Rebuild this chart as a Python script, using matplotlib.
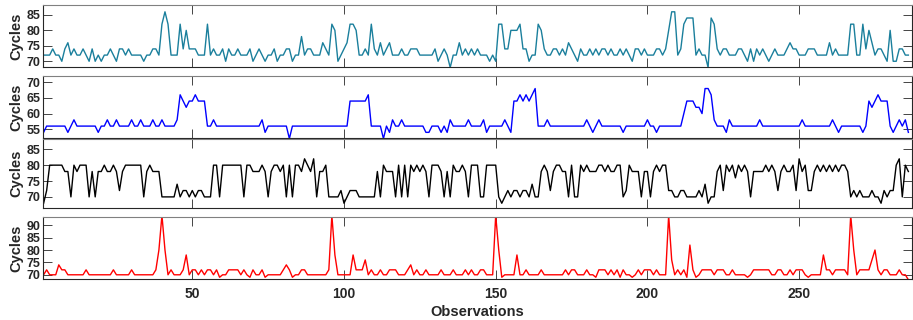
import numpy as np
import matplotlib
matplotlib.use("Agg")
import matplotlib.pyplot as plt

plt.rcParams['font.family'] = ['Liberation Sans', 'DejaVu Sans']

series1 = [
    72,72,72,74,72,72,70,74,76,72, 74,72,72,74,72,70,74,70,72,70,
    72,72,74,72,70,74,74,72,74,72, 72,72,72,70,72,72,74,74,72,82,
    86,82,72,72,72,82,74,80,74,74, 74,72,72,72,82,72,74,72,72,74,
    70,74,72,72,74,72,72,72,74,70, 72,74,72,70,72,72,74,70,72,72,
    74,74,70,72,72,78,72,74,74,72, 72,72,76,74,72,82,80,70,72,74,
    76,82,82,80,72,72,74,72,82,74, 72,76,72,74,76,72,72,72,74,72,
    72,74,74,74,72,72,72,72,72,74, 70,72,74,72,68,72,72,76,72,74,
    72,74,72,74,72,72,72,70,72,70, 82,82,74,74,80,80,80,82,74,74,
    70,72,72,82,80,74,72,72,74,74, 72,74,72,76,74,72,70,74,72,72,
    74,72,74,72,74,74,72,74,72,72, 74,72,74,72,70,74,74,72,74,72,
    72,72,74,74,72,74,80,86,86,72, 74,82,84,84,84,72,74,72,72,68,
    84,82,74,72,74,74,72,72,72,74, 74,72,70,74,70,74,72,74,72,70,
    72,74,72,72,72,74,76,74,74,72, 72,72,74,74,74,72,72,72,72,76,
    72,74,72,72,72,72,82,82,72,72, 82,74,80,76,72,74,74,72,70,80,
    70,70,74,74,72,72]

series2 = [
    54,56,56,56,56,56,56,56,54,56, 58,56,56,56,56,56,56,56,54,56,
    56,58,56,56,58,56,56,56,56,58, 56,56,58,56,56,56,58,56,56,58,
    56,56,56,56,58,66,64,62,64,64, 66,64,64,64,56,56,58,56,56,56,
    56,56,56,56,56,56,56,56,56,56, 56,56,58,54,56,56,56,56,56,56,
    56,52,56,56,56,56,56,56,56,56, 56,56,56,56,56,56,56,56,56,56,
    56,64,64,64,64,64,64,66,56,56, 56,56,52,56,54,58,56,56,58,56,
    56,56,56,56,56,56,54,54,56,56, 56,54,56,54,58,56,56,56,56,56,
    58,56,56,56,56,58,54,56,56,56, 56,56,58,56,54,64,64,66,64,66,
    64,66,68,56,56,56,58,56,56,56, 56,56,56,56,56,56,56,56,56,58,
    56,54,56,58,56,56,56,56,56,56, 56,54,56,56,56,56,56,56,56,58,
    56,56,54,56,56,56,56,56,56,56, 56,60,64,64,64,62,62,60,68,68,
    66,58,56,56,56,54,58,56,56,56, 56,56,56,56,56,56,58,56,56,56,
    56,56,56,56,56,56,56,56,56,56, 58,56,56,56,56,56,56,56,56,56,
    58,56,54,56,56,56,56,56,56,56, 54,56,64,62,64,66,64,64,64,56,
    54,56,58,56,58,54]

series3 = [
    68,72,80,80,80,80,80,78,78,70, 80,78,80,80,80,70,78,70,78,78,
    80,78,78,80,78,72,78,80,80,80, 80,80,80,70,78,80,78,78,78,70,
    70,70,70,70,74,70,72,72,70,72, 70,72,72,70,70,70,80,80,70,80,
    80,80,80,80,80,80,70,80,80,78, 78,78,80,78,70,78,80,80,78,80,
    70,80,70,80,80,78,82,80,78,82, 70,78,78,80,70,70,70,70,72,68,
    70,72,72,72,70,70,70,70,70,70, 78,70,80,78,78,78,70,80,70,80,
    70,80,78,80,78,80,78,70,80,80, 80,78,70,78,70,80,78,78,80,78,
    70,80,80,80,70,70,80,80,80,80, 70,68,70,72,70,72,72,70,72,72,
    70,74,70,70,78,80,78,72,78,80, 80,78,78,70,80,70,70,80,78,80,
    78,78,78,80,80,78,80,78,78,80, 80,70,72,80,78,78,78,70,78,78,
    70,78,80,78,80,80,72,72,70,70, 72,72,70,70,70,70,72,70,74,68,
    70,70,78,80,72,80,78,80,76,80, 78,80,78,70,78,78,78,78,80,78,
    80,78,72,78,80,78,78,80,72,82, 78,80,72,72,78,80,78,80,78,80,
    78,80,78,80,80,78,70,72,70,72, 70,70,70,72,70,70,68,72,70,72,
    72,80,82,70,80,78]

series4 = [
    70,72,70,70,70,74,72,72,70,70, 70,70,70,70,72,70,70,70,70,70,
    70,70,70,72,70,70,70,70,70,72, 70,70,70,70,70,70,70,72,80,94,
    80,70,72,70,70,70,72,78,70,72, 72,70,72,70,72,72,70,72,69,70,
    70,72,72,72,72,70,72,70,69,72, 70,70,72,69,70,70,70,70,70,72,
    74,72,69,70,70,72,72,70,70,70, 70,70,70,70,72,94,78,70,70,70,
    70,70,78,72,72,72,76,70,72,70, 70,72,70,70,72,72,72,70,70,70,
    72,74,70,72,70,70,72,70,70,70, 70,72,70,70,70,72,70,70,70,72,
    70,72,70,70,72,72,70,70,70,94, 80,69,70,70,70,70,78,70,70,72,
    70,70,70,70,72,70,70,70,70,70, 70,70,72,70,72,72,70,70,70,72,
    70,70,69,72,72,72,70,72,70,72, 69,72,70,70,69,70,72,70,72,72,
    72,70,72,70,70,70,94,76,70,72, 70,72,69,82,72,69,70,72,72,72,
    72,70,72,72,72,70,70,72,70,70, 70,70,69,70,72,72,72,72,72,72,
    70,70,72,72,70,70,72,70,72,72, 72,70,69,70,70,70,70,78,72,72,
    70,72,72,72,72,70,94,80,70,72, 72,72,72,76,80,72,70,72,72,70,
    70,70,72,70,70,68]

colors = ['#1a7f9c', '#0000ff', '#000000', '#ff0000']
ylims = [(68.15, 88.2), (52.1, 72.1), (66.5, 88.4), (68.3, 93.2)]
yticks = [[70, 75, 80, 85], [55, 60, 65, 70], [70, 75, 80, 85], [70, 75, 80, 85, 90]]
xticks = [50, 100, 150, 200, 250]

W, H = 913, 320
# pixel boxes (top, bottom)
boxes = [(5, 67), (75.7, 138.3), (138.5, 208), (217.3, 279)]
left_px, right_px = 43, 912

fig = plt.figure(figsize=(W / 100, H / 100), dpi=100)
all_series = [series1, series2, series3, series4]
tc = '#262626'
for k, (s, (t, b)) in enumerate(zip(all_series, boxes)):
    ax = fig.add_axes([left_px / W, 1 - b / H, (right_px - left_px) / W, (b - t) / H])
    x = np.arange(1, len(s) + 1)
    ax.plot(x, s, color=colors[k], lw=1.0)
    ax.set_xlim(0.8, 287.2)
    ax.set_ylim(*ylims[k])
    ax.set_xticks(xticks)
    ax.set_yticks(yticks[k])
    ax.tick_params(direction='in', length=6.3, width=0.6, top=True, right=True,
                   colors=tc, labelsize=9, pad=2)
    for lab in ax.get_yticklabels():
        lab.set_fontweight('bold')
    if k < 3:
        ax.set_xticklabels([])
    else:
        ax.set_xticklabels([str(v) for v in xticks], fontsize=10, fontweight='bold', color=tc)
        ax.tick_params(axis='x', pad=6)
        ax.set_xlabel('Observations', fontsize=10.5, fontweight='bold', color=tc, labelpad=3)
    for sp in ax.spines.values():
        sp.set_color(tc)
        sp.set_linewidth(0.8)
    ax.spines['top'].set_color('#808080')
    ax.set_ylabel('Cycles', fontsize=10.5, fontweight='bold', color=tc, labelpad=2)

fig.savefig('out.png', dpi=100)
